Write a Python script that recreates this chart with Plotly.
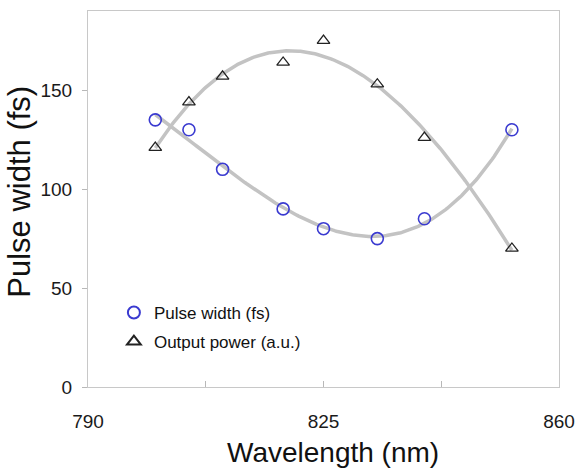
import numpy as np
import plotly.graph_objects as go

# Data
wavelength_nm = [800, 805, 810, 819, 825, 833, 840, 853]
pulse_width_fs = [135, 130, 110, 90, 80, 75, 85, 130]
output_power_au = [121, 144, 157, 164, 175, 153, 126, 70]

x_tick_vals = [790, 807.5, 825, 842.5, 860]
x_tick_text = ["790", "", "825", "", "860"]
y_tick_vals = [0, 50, 100, 150]

# Polynomial (3rd order) trendlines, as in the original spreadsheet chart
def trend(x, y, order=3):
    coef = np.polyfit(x, y, order)
    xs = np.linspace(min(x), max(x), 200)
    return xs, np.polyval(coef, xs)

tx1, ty1 = trend(wavelength_nm, pulse_width_fs)
tx2, ty2 = trend(wavelength_nm, output_power_au)

fig = go.Figure()
trend_line = dict(color="#c3c3c3", width=3.5)
fig.add_trace(go.Scatter(x=tx1, y=ty1, mode="lines", line=trend_line,
                         showlegend=False, hoverinfo="skip"))
fig.add_trace(go.Scatter(x=tx2, y=ty2, mode="lines", line=trend_line,
                         showlegend=False, hoverinfo="skip"))
fig.add_trace(go.Scatter(x=wavelength_nm, y=pulse_width_fs, mode="markers",
                         name="Pulse width (fs)", legendgroup="a",
                         marker=dict(symbol="circle-open", size=12,
                                     color="#3a3ad0", line=dict(width=1.6))))
fig.add_trace(go.Scatter(x=wavelength_nm, y=output_power_au, mode="markers",
                         name="Output power (a.u.)", legendgroup="b",
                         marker=dict(symbol="triangle-up-open", size=11,
                                     color="#222222", line=dict(width=1.3))))

axis_common = dict(showline=True, linecolor="#c8c8c8", linewidth=1.2,
                   mirror=True, showgrid=False, zeroline=False,
                   tickcolor="#b8b8b8", tickwidth=1,
                   tickfont=dict(family="Liberation Sans, Arial", size=19,
                                 color="#1a1a1a"))

fig.update_xaxes(range=[790, 860], tickmode="array", tickvals=x_tick_vals,
                 ticktext=x_tick_text, ticks="inside", ticklen=6,
                 ticklabelstandoff=17, **axis_common)
fig.update_yaxes(range=[0, 190], tickmode="array", tickvals=y_tick_vals,
                 ticks="outside", ticklen=5, ticklabelstandoff=6,
                 **axis_common)

fig.add_annotation(text="Wavelength (nm)", xref="paper", yref="paper",
                   x=0.52, y=-0.127, xanchor="center", yanchor="top",
                   showarrow=False,
                   font=dict(family="Liberation Sans, Arial", size=28,
                             color="#111111"))
fig.add_annotation(text="Pulse width (fs)", xref="paper", yref="paper",
                   x=-0.146, y=0.52, xanchor="center", yanchor="middle",
                   textangle=-90, showarrow=False,
                   font=dict(family="Liberation Sans, Arial", size=31,
                             color="#111111"))

fig.update_layout(
    width=585, height=473,
    margin=dict(l=88, r=20, t=10, b=86),
    paper_bgcolor="white", plot_bgcolor="white",
    showlegend=True,
    legend=dict(x=0.055, y=0.245, xanchor="left", yanchor="top",
                bgcolor="rgba(0,0,0,0)", traceorder="grouped",
                tracegroupgap=4, itemsizing="constant",
                font=dict(family="Liberation Sans, Arial", size=17,
                          color="#111111")),
)

fig.write_html("out.html")
